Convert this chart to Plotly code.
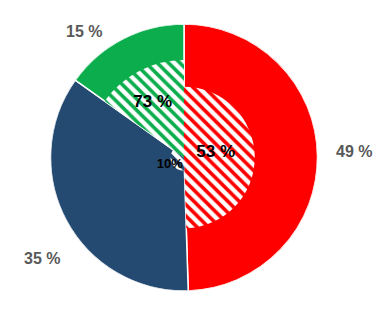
import plotly.graph_objects as go
import numpy as np

categories = ["A", "B", "C"]
outer_values = [49, 35, 15]
inner_values = [53, 10, 73]
outer_labels = ["49 %", "35 %", "15 %"]
inner_labels = ["53 %", "10%", "73 %"]
colors = ["#FF0000", "#244A72", "#0BAD4C"]

vals = np.array(outer_values, dtype=float)
spans = vals / vals.sum() * 360.0
starts = np.concatenate([[0], np.cumsum(spans)[:-1]])
centers = starts + spans / 2

fig = go.Figure()
fig.add_trace(go.Barpolar(
    r=[100] * len(categories), theta=centers, width=spans,
    marker=dict(color=colors, line=dict(color="white", width=1.5)),
    hoverinfo="skip", showlegend=False,
))
fig.add_trace(go.Barpolar(
    r=inner_values, theta=centers, width=spans,
    marker=dict(color="white", line=dict(color="white", width=0),
                pattern=dict(shape="\\", fgcolor=colors, bgcolor="white",
                             size=8, solidity=0.45, fillmode="replace")),
    hoverinfo="skip", showlegend=False,
))

# inner labels
fig.add_trace(go.Scatterpolar(
    r=[24, 12, 47], theta=[82, 242, 330],
    mode="text", text=inner_labels,
    textfont=dict(family="Liberation Sans", size=[17, 13, 17], color="black", weight="bold"),
    hoverinfo="skip", showlegend=False,
))

W, H = 390, 311
# outer labels placed around the pie (pixel positions)
label_pos = [(354, 151), (42, 258), (84, 31)]
for txt, (px, py) in zip(outer_labels, label_pos):
    fig.add_annotation(
        x=px / W, y=1 - py / H, xref="paper", yref="paper",
        text=txt, showarrow=False, xanchor="center", yanchor="middle",
        font=dict(family="Liberation Sans", size=16, color="#595959", weight="bold"),
    )

cx, cy, R = 184, H - 157.5, 133.5
fig.update_layout(
    width=W, height=H,
    margin=dict(l=0, r=0, t=0, b=0),
    paper_bgcolor="white", plot_bgcolor="white",
    polar=dict(
        domain=dict(x=[(cx - R) / W, (cx + R) / W], y=[(cy - R) / H, (cy + R) / H]),
        barmode="overlay",
        bgcolor="white",
        radialaxis=dict(visible=False, range=[0, 100]),
        angularaxis=dict(visible=False, rotation=90, direction="clockwise"),
        hole=0,
    ),
)
fig.write_html("out.html")
